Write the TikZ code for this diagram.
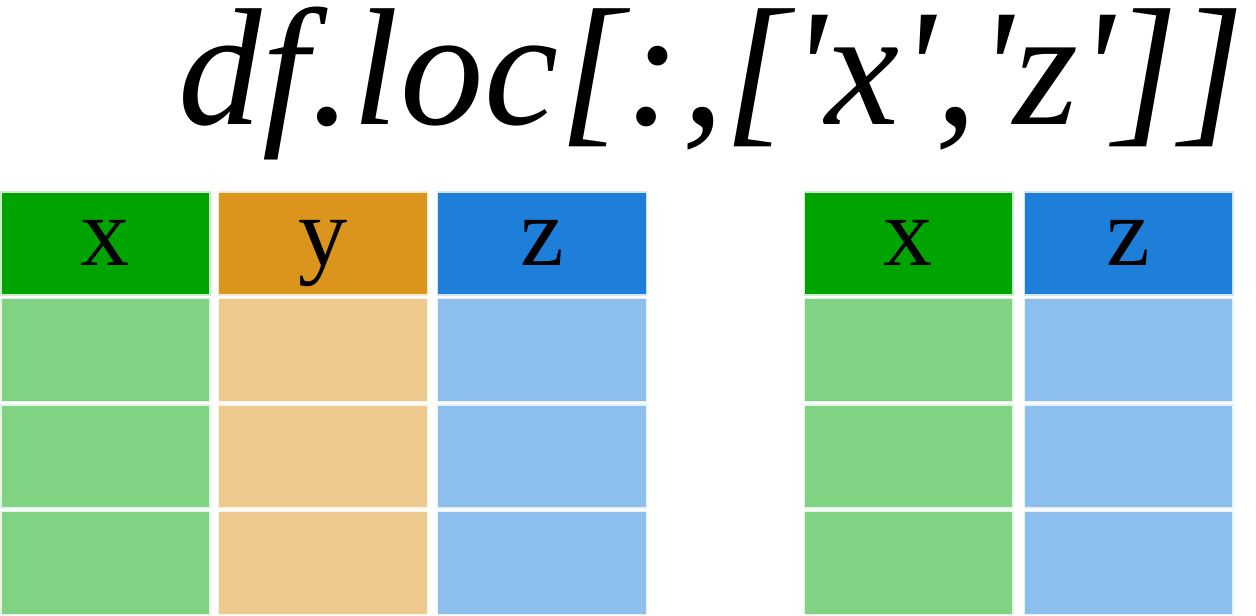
\documentclass[tikz,border=0pt]{standalone}
\usepackage{fontspec}
\setmainfont{Liberation Serif}
\newfontfamily\titlefont[LetterSpace=0.6]{Liberation Serif}
\definecolor{hdgreen}{HTML}{00A400}
\definecolor{hdorange}{HTML}{DB941C}
\definecolor{hdblue}{HTML}{1E7FDB}
\definecolor{ltgreen}{HTML}{80D383}
\definecolor{ltorange}{HTML}{EECA8F}
\definecolor{ltblue}{HTML}{8DBFEE}
\tikzset{
  cell/.style={minimum width=4.18cm, minimum height=2.06cm, inner sep=0pt,
    draw=white!80!#1, line width=0.6pt, fill=#1},
  head/.style={cell=#1, font=\fontsize{56}{56}\selectfont,
    text height=25pt, text depth=0pt}
}
\begin{document}
\begin{tikzpicture}[x=0.02cm, y=-0.02cm]
    \useasboundingbox (0,0) rectangle (1256,615);

    % Title
    \node[anchor=base west, inner sep=0pt, text height=62pt, text depth=20pt,
      font=\titlefont\fontsize{95}{95}\selectfont\itshape]
      (title) at (178,124) {df.loc[:,[\textquotesingle x\textquotesingle,\textquotesingle z\textquotesingle]]};

    % Left table: header row
    \node[head=hdgreen] (lx) at (105.5,243.5) {x};
    \node[head=hdorange] (ly) at (323,243.5) {y};
    \node[head=hdblue] (lz) at (542,243.5) {z};

    % Left table: data rows
    \foreach \r/\yy in {1/350, 2/456.5, 3/563} {
      \node[cell=ltgreen] (lx\r) at (105.5,\yy) {};
      \node[cell=ltorange] (ly\r) at (323,\yy) {};
      \node[cell=ltblue] (lz\r) at (542,\yy) {};
    }

    % Right table: header row
    \node[head=hdgreen] (rx) at (908.5,243.5) {x};
    \node[head=hdblue] (rz) at (1128.5,243.5) {z};

    % Right table: data rows
    \foreach \r/\yy in {1/350, 2/456.5, 3/563} {
      \node[cell=ltgreen] (rx\r) at (908.5,\yy) {};
      \node[cell=ltblue] (rz\r) at (1128.5,\yy) {};
    }
\end{tikzpicture}
\end{document}
